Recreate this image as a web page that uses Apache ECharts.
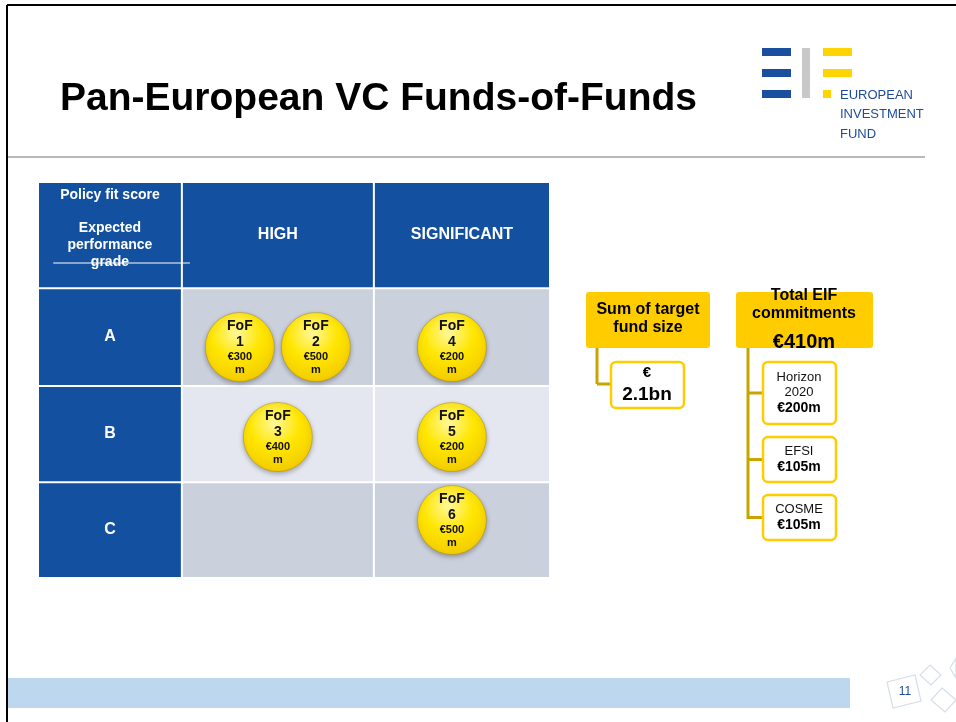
<!DOCTYPE html>
<html>
<head>
<meta charset="utf-8" />
<title>Pan-European VC Funds-of-Funds</title>
<style>
    html, body { margin: 0; padding: 0; background: #fff; }
    #chart { width: 956px; height: 722px; }
</style>
</head>
<body>
<div id="chart"></div>
<script src="https://cdn.jsdelivr.net/npm/echarts@6/dist/echarts.min.js"></script>
<script>
    // columns: policy fit score, rows: expected performance grade
    const policyScores = ['HIGH', 'SIGNIFICANT'];
    const grades = ['A', 'B', 'C'];

    // funds-of-funds
    const fundIds = [1, 2, 3, 4, 5, 6];
    const fundPolicy = ['HIGH', 'HIGH', 'HIGH', 'SIGNIFICANT', 'SIGNIFICANT', 'SIGNIFICANT'];
    const fundGrade = ['A', 'A', 'B', 'A', 'B', 'C'];
    const fundSizeM = [300, 500, 400, 200, 200, 500];

    // EIF commitments by source
    const eifSources = ['Horizon 2020', 'EFSI', 'COSME'];
    const eifAmountsM = [200, 105, 105];

    // table layout (fractions of the table box)
    const colEdges = [0, 0.281, 0.656, 1];
    const rowEdges = [0, 0.268, 0.515, 0.758, 1];
    const bubbleGap = 76 / 512;
    // small nudges of the bubbles inside their cells, as on the slide
    const colNudge = [0, 0, -10 / 512];
    const rowNudge = [0, 10 / 396, 3 / 396, -10 / 396];

    const BLUE = '#13509f';
    const GOLD = '#ffcc00';
    const GOLD_DARK = '#c9a400';
    const FONT = '"Liberation Sans", Arial, sans-serif';

    // cells: [xCenter, yCenter, col, row]
    const cellData = [];
    for (let r = 0; r < rowEdges.length - 1; r++) {
        for (let c = 0; c < colEdges.length - 1; c++) {
            cellData.push([(colEdges[c] + colEdges[c + 1]) / 2, (rowEdges[r] + rowEdges[r + 1]) / 2, c, r]);
        }
    }

    // bubbles placed in their cell, spread out when a cell holds several funds
    const bubbleData = fundIds.map(function (id, i) {
        const c = policyScores.indexOf(fundPolicy[i]) + 1;
        const r = grades.indexOf(fundGrade[i]) + 1;
        const peers = fundIds.filter(function (_, j) {
            return fundPolicy[j] === fundPolicy[i] && fundGrade[j] === fundGrade[i];
        });
        const k = peers.indexOf(id);
        const x = (colEdges[c] + colEdges[c + 1]) / 2 + colNudge[c] + (k - (peers.length - 1) / 2) * bubbleGap;
        const y = (rowEdges[r] + rowEdges[r + 1]) / 2 + rowNudge[r];
        return { name: 'FoF ' + id, value: [x, y, id, fundSizeM[i]] };
    });

    function txt(x, y, text, size, weight, color, align, family) {
        return {
            type: 'text',
            silent: true,
            style: {
                text: text, x: x, y: y,
                fill: color || '#000',
                font: (weight || 'normal') + ' ' + size + 'px ' + (family || FONT),
                textAlign: align || 'center', textVerticalAlign: 'middle',
                align: align || 'center', verticalAlign: 'middle'
            }
        };
    }
    function rect(x, y, w, h, fill, stroke, lw, r) {
        return {
            type: 'rect', silent: true,
            shape: { x: x, y: y, width: w, height: h, r: r || 0 },
            style: { fill: fill, stroke: stroke || null, lineWidth: lw || 0 }
        };
    }
    function line(x1, y1, x2, y2, color, lw) {
        return {
            type: 'line', silent: true,
            shape: { x1: x1, y1: y1, x2: x2, y2: y2 },
            style: { stroke: color, lineWidth: lw }
        };
    }
    function poly(points, color) {
        return {
            type: 'polygon', silent: true,
            shape: { points: points },
            style: { fill: null, stroke: color, lineWidth: 1.2 }
        };
    }

    // slide decoration + logo
    const graphics = [
        line(7, 5, 956, 5, '#000', 2),
        line(7, 5, 7, 722, '#000', 2),
        line(8, 157, 925, 157, '#b8b8b8', 2),
        // logo
        rect(762, 48, 29, 8, '#1a4f9f'),
        rect(762, 69, 29, 8, '#1a4f9f'),
        rect(762, 90, 29, 8, '#1a4f9f'),
        rect(802, 48, 8, 50, '#c8c8c8'),
        rect(823, 48, 29, 8, '#ffd400'),
        rect(823, 69, 29, 8, '#ffd400'),
        rect(823, 90, 8, 8, '#ffd400'),
        txt(840, 95, 'EUROPEAN', 13, 'normal', '#1e4b9b', 'left'),
        txt(840, 114, 'INVESTMENT', 13, 'normal', '#1e4b9b', 'left'),
        txt(840, 134, 'FUND', 13, 'normal', '#1e4b9b', 'left'),
        // footer
        rect(8, 678, 842, 30, '#bdd7ee'),
        poly([[887, 682], [915, 675], [921, 701], [893, 708]], '#d6dee8'),
        poly([[930, 665], [941, 675], [931, 685], [920, 675]], '#d6dee8'),
        poly([[942, 688], [956, 700], [945, 712], [931, 700]], '#d6dee8'),
        poly([[956, 658], [950, 668], [956, 678]], '#d6dee8'),
        txt(905, 692, '11', 12, 'normal', '#1e4b9b')
    ];

    // sum of target fund size
    const totalFundM = fundSizeM.reduce(function (a, b) { return a + b; }, 0);
    graphics.push(
        line(597, 348, 597, 384, GOLD_DARK, 3),
        line(597, 384, 611, 384, GOLD_DARK, 3),
        rect(586, 292, 124, 56, GOLD, null, 0, 3),
        txt(648, 310, 'Sum of target', 16, 'bold'),
        txt(648, 328, 'fund size', 16, 'bold'),
        rect(611, 362, 73, 46, '#fff', GOLD, 2.5, 5),
        txt(647, 373, '€', 15, 'bold'),
        txt(647, 395, (totalFundM / 1000).toFixed(1) + 'bn', 19, 'bold')
    );

    // total EIF commitments and its sources
    const eifTotal = eifAmountsM.reduce(function (a, b) { return a + b; }, 0);
    let boxY = 362;
    let lastMid = 0;
    const srcItems = [];
    eifSources.forEach(function (src, i) {
        const nameLines = src.indexOf(' ') > 0 ? src.split(' ') : [src];
        const h = nameLines.length > 1 ? 62 : 45;
        const mid = boxY + h / 2;
        srcItems.push(line(748, mid, 763, mid, GOLD_DARK, 3));
        srcItems.push(rect(763, boxY, 73, h, '#fff', GOLD, 2.5, 5));
        const blockH = nameLines.length * 15 + 17;
        let ty = mid - blockH / 2 + 7.5;
        nameLines.forEach(function (ln) {
            srcItems.push(txt(799, ty, ln, 13, 'normal', '#111'));
            ty += 15;
        });
        srcItems.push(txt(799, ty + 1, '€' + eifAmountsM[i] + 'm', 14, 'bold'));
        lastMid = mid;
        boxY += h + 13;
    });
    graphics.push(line(748, 348, 748, lastMid + 1.5, GOLD_DARK, 3));
    graphics.push.apply(graphics, srcItems);
    graphics.push(
        rect(736, 292, 137, 56, GOLD, null, 0, 3),
        txt(804, 296, 'Total EIF', 16, 'bold'),
        txt(804, 314, 'commitments', 16, 'bold'),
        txt(804, 342, '€' + eifTotal + 'm', 20, 'bold')
    );

    const chart = echarts.init(document.getElementById('chart'));
    const option = {
        backgroundColor: '#fff',
        animation: false,
        title: {
            text: 'Pan-European VC Funds-of-Funds',
            left: 55,
            top: 75,
            textStyle: { fontSize: 39, fontWeight: 'bold', color: '#000', fontFamily: FONT }
        },
        grid: { left: 38, top: 182, width: 512, height: 396 },
        xAxis: { type: 'value', min: 0, max: 1, show: false },
        yAxis: { type: 'value', min: 0, max: 1, inverse: true, show: false },
        series: [
            {
                type: 'custom',
                name: 'cells',
                silent: true,
                data: cellData,
                encode: { x: 0, y: 1 },
                renderItem: function (params, api) {
                    const c = api.value(2), r = api.value(3);
                    const p0 = api.coord([colEdges[c], rowEdges[r]]);
                    const p1 = api.coord([colEdges[c + 1], rowEdges[r + 1]]);
                    const w = p1[0] - p0[0], h = p1[1] - p0[1];
                    const cx = p0[0] + w / 2, cy = p0[1] + h / 2;
                    const isHead = r === 0 || c === 0;
                    const fill = isHead ? BLUE : (r === 2 ? '#e4e7ef' : '#cbd0dd');
                    const children = [{
                        type: 'rect',
                        shape: { x: p0[0] + 1, y: p0[1] + 1, width: w - 2, height: h - 2 },
                        style: { fill: fill }
                    }];
                    const white = function (x, y, t, size) {
                        return {
                            type: 'text',
                            style: {
                                text: t, x: x, y: y, fill: '#fff',
                                font: 'bold ' + size + 'px ' + FONT,
                                align: 'center', verticalAlign: 'middle'
                            }
                        };
                    };
                    if (r === 0 && c === 0) {
                        children.push(white(cx, p0[1] + 13, 'Policy fit score', 14));
                        children.push(white(cx, p0[1] + 46, 'Expected', 14));
                        children.push(white(cx, p0[1] + 63, 'performance', 14));
                        children.push(white(cx, p0[1] + 80, 'grade', 14));
                    } else if (r === 0) {
                        children.push(white(cx, cy, policyScores[c - 1], 16));
                    } else if (c === 0) {
                        children.push(white(cx, cy, grades[r - 1], 16));
                    }
                    if (r === 0 && c === 1) {
                        // the stray rule under "grade" runs into this cell
                        children.push({
                            type: 'line',
                            shape: { x1: p0[0] - w * 0.67, y1: p0[1] + 81, x2: p0[0] + 8, y2: p0[1] + 81 },
                            style: { stroke: '#fff', lineWidth: 1 }
                        });
                    }
                    return { type: 'group', children: children };
                },
                z: 1
            },
            {
                type: 'scatter',
                name: 'funds',
                data: bubbleData,
                symbol: 'circle',
                symbolSize: 69,
                z: 3,
                itemStyle: {
                    opacity: 1,
                    color: {
                        type: 'radial', x: 0.45, y: 0.3, r: 0.8,
                        colorStops: [
                            { offset: 0, color: '#fff89a' },
                            { offset: 0.45, color: '#ffe600' },
                            { offset: 1, color: '#f0c400' }
                        ]
                    },
                    borderColor: 'rgba(170, 140, 0, 0.5)',
                    borderWidth: 1,
                    shadowBlur: 5,
                    shadowOffsetY: 2,
                    shadowColor: 'rgba(0, 0, 0, 0.3)'
                },
                label: {
                    show: true,
                    position: 'inside',
                    color: '#111',
                    formatter: function (p) {
                        return '{a|FoF}\n{a|' + p.value[2] + '}\n{b|€' + p.value[3] + '}\n{b|m}';
                    },
                    rich: {
                        a: { fontSize: 14, fontWeight: 'bold', color: '#111', lineHeight: 16, fontFamily: FONT },
                        b: { fontSize: 11, fontWeight: 'bold', color: '#111', lineHeight: 13, fontFamily: FONT }
                    }
                }
            }
        ],
        graphic: graphics
    };
    chart.setOption(option);
</script>
</body>
</html>
